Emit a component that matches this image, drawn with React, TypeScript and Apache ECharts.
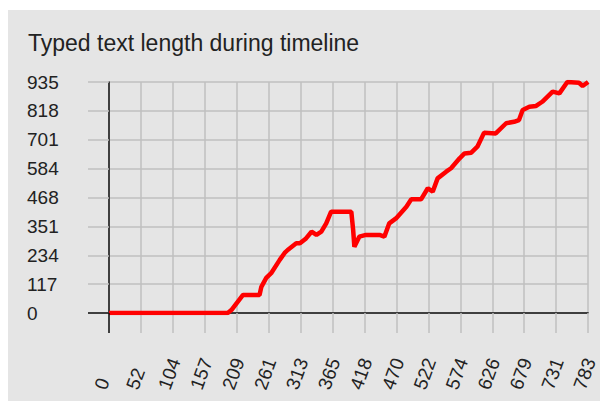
import React, { useEffect, useRef } from 'react';
import * as echarts from 'echarts';

const titleText = 'Typed text length during timeline';

const xTickLabels = ['0', '52', '104', '157', '209', '261', '313', '365', '418', '470', '522', '574', '626', '679', '731', '783'];
const yTickLabels = ['0', '117', '234', '351', '468', '584', '701', '818', '935'];

const X_MAX = 783;
const Y_MAX = 935;

const timeValues = [
  0, 194, 200, 219, 246, 249, 257, 265, 279, 287, 292, 306, 312, 322, 331, 339, 347, 355, 363, 396,
  399, 401, 409, 420, 442, 450, 458, 469, 486, 494, 510, 521, 529, 537, 551, 559, 573, 581, 592, 602,
  613, 632, 649, 662, 670, 676, 687, 698, 708, 725, 736, 749, 768, 774, 783,
];
const lengthValues = [
  0, 0, 12, 73, 73, 106, 142, 161, 215, 243, 255, 282, 282, 302, 329, 316, 329, 363, 410, 410,
  336, 268, 309, 316, 316, 309, 363, 383, 430, 460, 460, 505, 491, 545, 572, 586, 626, 646, 649, 673,
  730, 727, 768, 774, 781, 822, 835, 838, 855, 896, 889, 935, 932, 919, 935,
];

const xStep = X_MAX / (xTickLabels.length - 1);
const yStep = Y_MAX / (yTickLabels.length - 1);

export default function App() {
  const ref = useRef<HTMLDivElement>(null);

  useEffect(() => {
    const chart = echarts.init(ref.current!, null, { renderer: 'svg' });
    const gridColor = '#bfbfbf';
    chart.setOption({
      animation: false,
      backgroundColor: '#e5e5e5',
      title: {
        text: titleText,
        left: 15,
        top: 16,
        textStyle: {
          fontFamily: 'Liberation Sans, Arial, sans-serif',
          fontSize: 23,
          fontWeight: 'normal',
          color: '#222222',
        },
      },
      grid: { left: 101, right: 11, top: 72, bottom: 88, containLabel: false },
      xAxis: {
        type: 'value',
        min: 0,
        max: X_MAX,
        interval: xStep,
        axisLine: { show: true, onZero: false, lineStyle: { color: '#111111', width: 1.5 } },
        axisTick: { show: true, length: 20, lineStyle: { color: gridColor, width: 1.5 } },
        splitLine: { show: true, lineStyle: { color: gridColor, width: 1.5 } },
        axisLabel: {
          rotate: 70,
          align: 'left',
          verticalAlign: 'bottom',
          margin: 79,
          fontFamily: 'Liberation Sans, Arial, sans-serif',
          fontSize: 19,
          color: '#222222',
          formatter: (v: number) => xTickLabels[Math.round(v / xStep)] ?? '',
        },
      },
      yAxis: {
        type: 'value',
        min: 0,
        max: Y_MAX,
        interval: yStep,
        axisLine: { show: true, onZero: false, lineStyle: { color: '#111111', width: 1.5 } },
        axisTick: { show: true, length: 21, lineStyle: { color: gridColor, width: 1.5 } },
        splitLine: { show: true, lineStyle: { color: gridColor, width: 1.5 } },
        axisLabel: {
          align: 'left',
          margin: 82,
          fontFamily: 'Liberation Sans, Arial, sans-serif',
          fontSize: 19,
          color: '#222222',
          formatter: (v: number) => yTickLabels[Math.round(v / yStep)] ?? '',
        },
      },
      series: [
        {
          type: 'line',
          data: timeValues.map((t, i) => [t, lengthValues[i]]),
          showSymbol: false,
          symbol: 'none',
          lineStyle: { color: '#ff0000', width: 4.5 },
          z: 5,
        },
      ],
    });
    const o = chart.convertToPixel({ xAxisIndex: 0, yAxisIndex: 0 }, [0, 0]) as number[];
    chart.setOption({
      graphic: [
        {
          type: 'line',
          shape: { x1: o[0], y1: o[1], x2: o[0], y2: o[1] + 20 },
          style: { stroke: '#111111', lineWidth: 1.5 },
          z: 10,
        },
        {
          type: 'line',
          shape: { x1: o[0] - 21, y1: o[1], x2: o[0], y2: o[1] },
          style: { stroke: '#111111', lineWidth: 1.5 },
          z: 10,
        },
      ],
    });
    return () => chart.dispose();
  }, []);

  return (
    <div style={{ position: 'absolute', left: 0, top: 0, width: 605, height: 401, background: '#ffffff', overflow: 'hidden' }}>
      <div ref={ref} style={{ position: 'absolute', left: 8, top: 10, width: 592, height: 391 }} />
    </div>
  );
}
